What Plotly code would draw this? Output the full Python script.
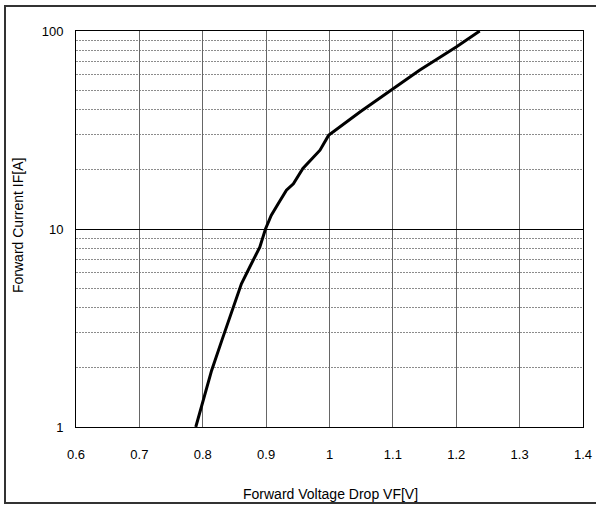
import plotly.graph_objects as go

# Forward voltage drop [V] and forward current [A]
vf = [0.789, 0.814, 0.830, 0.846, 0.861, 0.874, 0.890, 0.899, 0.908, 0.919,
      0.932, 0.943, 0.958, 0.985, 0.9985, 1.048, 1.1005, 1.142, 1.2005, 1.237]
if_a = [1.0, 1.93, 2.73, 3.88, 5.29, 6.41, 8.1, 10.0, 11.7, 13.4,
        15.7, 16.9, 20.2, 25.0, 29.7, 39.0, 51.3, 63.4, 83.2, 100.0]

x_ticks = [0.6, 0.7, 0.8, 0.9, 1.0, 1.1, 1.2, 1.3, 1.4]
x_labels = ["0.6", "0.7", "0.8", "0.9", "1", "1.1", "1.2", "1.3", "1.4"]
y_ticks = [1, 10, 100]
y_labels = ["1", "10", "100"]
y_minor = [2, 3, 4, 5, 6, 7, 8, 9, 20, 30, 40, 50, 60, 70, 80, 90]

x_title = "Forward Voltage Drop VF[V]"
y_title = "Forward Current IF[A]"

font = dict(family="Liberation Sans, Arial, sans-serif", size=13, color="black")
title_font = dict(family="Liberation Sans, Arial, sans-serif", size=14, color="black")

fig = go.Figure()
fig.add_trace(go.Scatter(x=vf, y=if_a, mode="lines",
                         line=dict(color="black", width=3), hoverinfo="skip",
                         showlegend=False))

fig.update_layout(
    width=596, height=505,
    margin=dict(l=76, r=13, t=31, b=78),
    paper_bgcolor="white", plot_bgcolor="white",
    font=font,
    showlegend=False,
)

fig.update_xaxes(
    range=[0.6, 1.4], tickvals=x_ticks, ticktext=x_labels,
    showgrid=True, gridcolor="#666666", gridwidth=1.3,
    showline=True, linecolor="black", linewidth=1, mirror=True,
    ticks="", zeroline=False, ticklabelstandoff=15, automargin=False,
    ticklabeloverflow="allow", tickfont=font,
)
fig.update_yaxes(
    type="log", range=[0, 2], tickvals=y_ticks, ticktext=y_labels,
    showgrid=True, gridcolor="black", gridwidth=1,
    showline=True, linecolor="black", linewidth=1, mirror=True,
    ticks="", zeroline=False, ticklabelstandoff=9, automargin=False,
    tickfont=font,
    minor=dict(tickvals=y_minor, showgrid=True, gridcolor="#8c8c8c",
               griddash="2px,1px", gridwidth=1.3, ticks=""),
)

# axis titles
fig.add_annotation(text=x_title, xref="paper", yref="paper",
                   x=(330 - 76) / 507, y=(427 - 494) / 396,
                   showarrow=False, font=title_font, xanchor="center", yanchor="middle")
fig.add_annotation(text=y_title, xref="paper", yref="paper",
                   x=(18 - 76) / 507, y=(427 - 226) / 396, textangle=-90,
                   showarrow=False, font=title_font, xanchor="center", yanchor="middle")

# outer frame (right side runs off the page in the reference)
fig.add_shape(type="rect", xref="paper", yref="paper",
              x0=(5 - 76) / 507, x1=1.2,
              y0=(427 - 503) / 396, y1=(427 - 6) / 396,
              line=dict(color="#333333", width=2), layer="below")

fig.write_html("out.html", config={"displayModeBar": False},
               post_script="document.body.style.margin='0';document.body.style.overflow='hidden';")
